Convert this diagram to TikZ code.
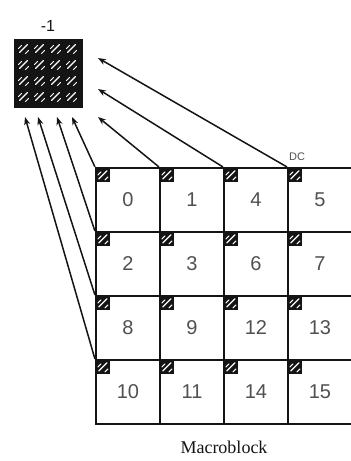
\documentclass[tikz,border=0pt]{standalone}
\usepackage{fontspec}
\setmainfont{Liberation Serif}
\setsansfont{Liberation Sans}
\usetikzlibrary{arrows.meta,positioning}
\definecolor{ink}{RGB}{20,20,20}
\definecolor{numgray}{RGB}{80,80,80}

\tikzset{
  hatch/.pic={
    \fill[ink] (0,0) rectangle (14,14);
    \draw[white,line width=1.3pt,line cap=round] (3,11) -- (11,3);
    \draw[white,line width=1pt,line cap=round] (2,7) -- (5,4) (9,12) -- (12,9);
  }
}

\begin{document}
\begin{tikzpicture}[x=1pt,y=-1pt,
  cell/.style={rectangle,draw=ink,line width=2.2pt,minimum size=64pt,inner sep=0pt,
    font=\sffamily\fontsize{20}{20}\selectfont,text=numgray},
  refblock/.style={rectangle,draw=ink,fill=ink,line width=1pt,minimum size=68pt,inner sep=0pt},
  arrow/.style={-{Stealth[length=8pt,width=6pt]},line width=1.5pt,draw=ink}]
\useasboundingbox (0,0) rectangle (351,461);

% the macroblock
\node[cell] (c0) at (128,200) {0};
\node[cell] (c1) at (192,200) {1};
\node[cell] (c4) at (256,200) {4};
\node[cell] (c5) at (320,200) {5};
\node[cell] (c2) at (128,264) {2};
\node[cell] (c3) at (192,264) {3};
\node[cell] (c6) at (256,264) {6};
\node[cell] (c7) at (320,264) {7};
\node[cell] (c8) at (128,328) {8};
\node[cell] (c9) at (192,328) {9};
\node[cell] (c12) at (256,328) {12};
\node[cell] (c13) at (320,328) {13};
\node[cell] (c10) at (128,392) {10};
\node[cell] (c11) at (192,392) {11};
\node[cell] (c14) at (256,392) {14};
\node[cell] (c15) at (320,392) {15};
\foreach \n in {0,1,4,5,2,3,6,7,8,9,12,13,10,11,14,15}
  \pic at ([shift={(1,1)}]c\n.north west) {hatch};

% DC block
\node[refblock] (ref) at (48,73) {};
\foreach \i in {0,...,3}
  \foreach \j in {0,...,3}
    \pic at ([shift={(3+16*\i,3+16*\j)}]ref.north west) {hatch};
\node[font=\sffamily\fontsize{16}{16}\selectfont,text=ink] (minus) at (48,26) {-1};

\coordinate (r1) at (98,58);
\coordinate (r2) at (98,89);
\coordinate (r3) at (98,117);
\coordinate (b1) at (72,117);
\coordinate (b2) at (57,117);
\coordinate (b3) at (38,117);
\coordinate (b4) at (25,117);

\draw[arrow] (c5.north west) -- (r1);
\draw[arrow] (c4.north west) -- (r2);
\draw[arrow] (c1.north west) -- (r3);
\draw[arrow] (c0.north west) -- (b1);
\draw[arrow] (c2.north west) -- (b2);
\draw[arrow] (c8.north west) -- (b3);
\draw[arrow] (c10.north west) -- (b4);

\node[font=\sffamily\fontsize{11}{11}\selectfont,text=numgray] (dc) at (297,157) {DC};
\node[font=\fontsize{18}{18}\selectfont,text=ink] (title) at (224,447) {Macroblock};
\end{tikzpicture}
\end{document}
